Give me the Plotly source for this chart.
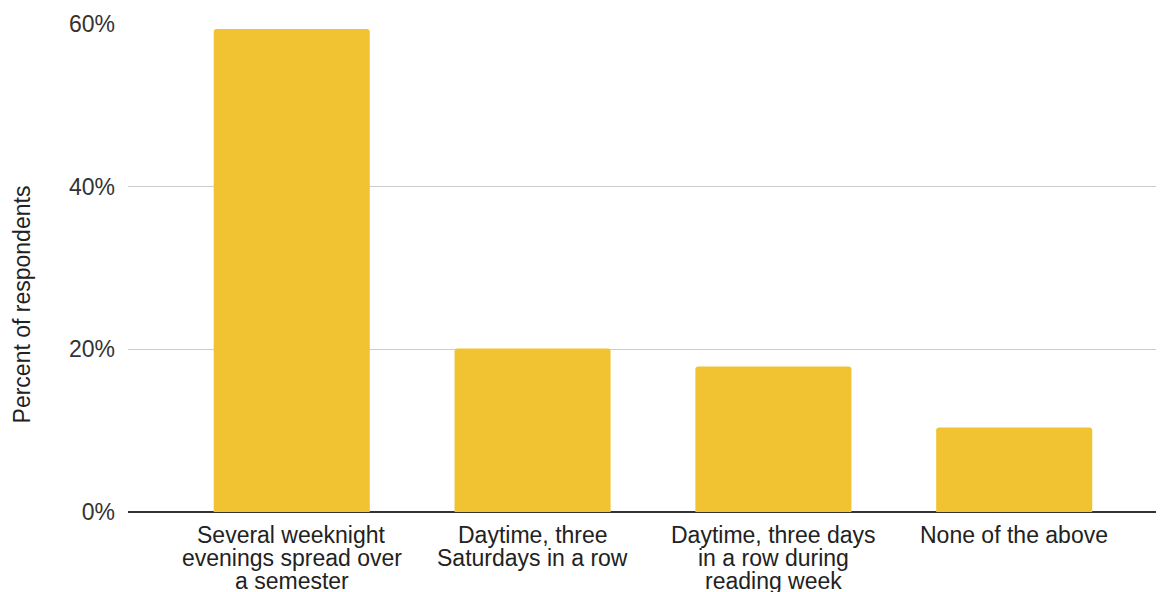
import plotly.graph_objects as go

categories = [
    "Several weeknight<br>evenings spread over<br>a semester",
    "Daytime, three<br>Saturdays in a row",
    "Daytime, three days<br>in a row during<br>reading week",
    "None of the above",
]
values = [59.4, 20.1, 17.9, 10.4]
y_ticks = [0, 20, 40, 60]
y_tick_labels = ["0%", "20%", "40%", "60%"]

FONT = "Arial, Liberation Sans, sans-serif"
FS = 23
LINE_H = 23.2

fig = go.Figure(
    go.Bar(
        x=list(range(len(categories))),
        y=values,
        marker=dict(color="#F1C232", line=dict(width=0)),
        hoverinfo="skip",
    )
)

annotations = []
for i, cat in enumerate(categories):
    for j, line in enumerate(cat.split("<br>")):
        annotations.append(
            dict(
                text=line,
                xref="x",
                yref="y",
                x=i,
                y=0,
                xanchor="center",
                yanchor="middle",
                yshift=-(23 + LINE_H * j),
                showarrow=False,
                font=dict(family=FONT, size=FS, color="#222222"),
            )
        )

annotations.append(
    dict(
        text="Percent of respondents",
        xref="paper",
        yref="paper",
        x=-0.102,
        y=0.426,
        xanchor="center",
        yanchor="middle",
        textangle=-90,
        showarrow=False,
        font=dict(family=FONT, size=FS, color="#222222"),
    )
)

fig.update_layout(
    width=1156,
    height=584,
    margin=dict(l=120, r=0, t=16, b=80),
    paper_bgcolor="white",
    plot_bgcolor="white",
    bargap=0.352,
    barcornerradius=3,
    showlegend=False,
    font=dict(family=FONT, size=FS, color="#222222"),
    xaxis=dict(
        range=[-0.68, 3.622],
        showticklabels=False,
        showgrid=False,
        zeroline=False,
        showline=False,
        ticks="",
        fixedrange=True,
    ),
    yaxis=dict(
        range=[0, 60],
        tickmode="array",
        tickvals=y_ticks,
        ticktext=y_tick_labels,
        showgrid=True,
        gridcolor="#cccccc",
        gridwidth=1,
        zeroline=True,
        zerolinecolor="#333333",
        zerolinewidth=1.5,
        showline=False,
        ticks="",
        ticklabelstandoff=12,
        tickfont=dict(family=FONT, size=FS, color="#333333"),
        fixedrange=True,
    ),
    annotations=annotations,
)

fig.write_html("out.html")
